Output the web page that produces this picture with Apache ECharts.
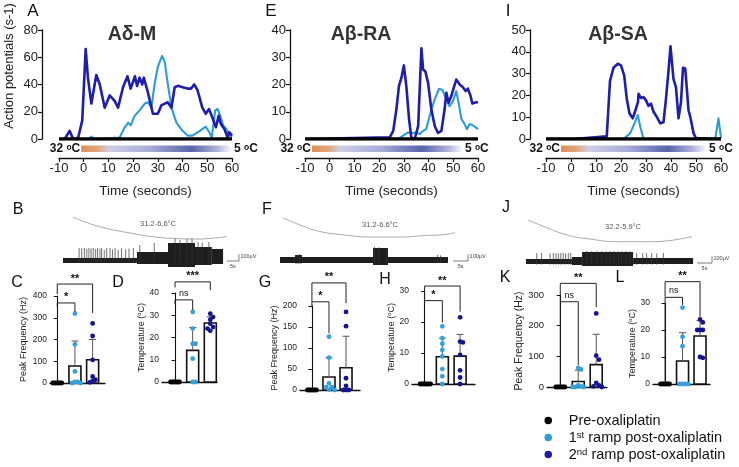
<!DOCTYPE html>
<html><head><meta charset="utf-8">
<script src="https://cdn.jsdelivr.net/npm/echarts@6/dist/echarts.min.js"></script>
<style>html,body{margin:0;padding:0;background:#fff}#c{width:739px;height:467px}</style>
</head><body><div id="c"></div><script>
// ---------------- DATA ----------------
const legendNames = ['Pre-oxaliplatin', '1st ramp post-oxaliplatin', '2nd ramp post-oxaliplatin'];
const panelTitles = ['A\u03b4-M', 'A\u03b2-RA', 'A\u03b2-SA'];
const rampTemps = [32, 5];
const timeName = 'Time (seconds)';

// Panel A (A-delta M), [time s, action potentials /s]
const preA = [[-10, 0], [60, 0]];
const firstA = [[-3,0],[2,0],[3,1.7],[4.5,0],[14.5,1],[16.6,8.6],[18,12],[19,10],[20.6,17],[22.6,21],[24.7,26],[26,27],[27.4,23],[28.7,40.6],[30,53],[31.7,61],[32.8,56.6],[33.8,43],[35.5,23],[37.5,12],[40,6],[42,2.5],[44,2.5],[47,6],[49.4,9],[50.8,5],[51.8,1],[53.2,21],[54.2,22],[55.4,16],[56.4,10],[57.7,7.4],[59,2.5],[60,1.7]];
const secondA = [[-7.7,0],[-5.7,6],[-4.3,0],[-2.3,0.5],[-0.6,13.5],[0.8,66],[1.7,45],[3.1,26],[5.1,47],[6.5,40],[8.5,23],[10.5,32],[12.5,28],[13.9,23],[15.9,38],[17.7,46],[19,37],[20.7,46],[21.6,39],[22.6,45],[23.7,40],[24.3,45],[26,34],[28,18.5],[30,18.5],[31.4,24.6],[32.8,26],[34,27],[35.5,23],[36.8,38],[38.2,39],[40,38],[42,37],[43.4,37],[44.7,40],[46,36],[48,23],[49.4,18.5],[50.7,22],[52,16],[53.5,8.6],[54.6,17],[55.5,11],[56.9,7.4],[58.2,1],[58.9,5],[60,2.5]];
const rampA = [-1, 60];

// Panel E (A-beta RA)
const preE = [[-10, 0], [60, 0]];
const firstE = [[-10,0],[27.7,0],[29.7,1.2],[31.7,2.4],[33.7,2.2],[35,2.4],[36.4,1.8],[37.8,3],[39,3.6],[41.2,11],[42.5,14.5],[44.2,18.4],[45.6,18],[47.2,14.5],[48.5,12],[49.9,14],[51.2,17.6],[51.9,14.5],[53.3,7.3],[54.6,5.5],[55.5,3.6],[56.6,5.5],[58,5],[60,3.6]];
const secondE = [[-10,0],[24.3,0.6],[25.7,3],[27,11],[28,19.4],[29,22.4],[30,27],[31,19.4],[32.1,7.3],[33,0.6],[34.4,0],[35.8,4.8],[37.1,33.3],[37.8,25.5],[38.7,24.8],[39.8,20.6],[41.1,11],[42.5,4.8],[43.8,2.2],[45.2,3],[46.5,11],[47.2,17],[48.1,13.3],[49.2,15.8],[51.2,21.8],[52.6,20],[53.9,19],[55,17.6],[55.9,18.5],[57,15.8],[57.7,13],[58.6,13.3],[60,13.6]];
const rampE = [-7.2, 53.9];

// Panel I (A-beta SA)
const preI = [[-10, 0], [60, 0]];
const firstI = [[-10,0],[21,0],[23.7,2.7],[25.7,8],[26.7,11],[27.7,5.7],[29,0],[57.7,0],[59,9.5],[60,0.4]];
const secondI = [[-10,0],[-1,0],[-0.4,0.7],[1,0],[14.3,1.2],[15.6,26.7],[17,32.7],[18.7,34.5],[20,33.8],[21.3,29],[22.3,18.5],[23.4,11.7],[24.7,9.5],[26,14],[26.8,17],[27,20.7],[28,18.8],[29,19.2],[30,17.7],[31,15.2],[32,16.2],[33,12.5],[34.3,10.2],[35.7,7.2],[37,7.7],[38,18.5],[39,31.2],[39.8,42.5],[41,27.5],[42,23.7],[43,9.5],[44,17],[44.8,32.7],[45.7,32.3],[47,13.2],[47.7,10.2],[49,2.7],[50,0.4],[60,0]];
const rampI = [-4, 54.4];

// Recordings: temperature curve [s, degC], envelope [t0, t1, low uV, high uV], spikes [t, uV], scale bar [t, uV, 5 s, 100 uV]
const bRange = '31.2-6.6\u00b0C';
const bTemp = [[4.2,31.6],[9.2,25.6],[17.5,18.4],[27.9,12.4],[38.3,7.6],[46.7,5.8],[55,5.2],[63.3,6.4],[68.3,8.2]];
const bSeg = [[0,30.8,-45,30],[30.8,43.75,-60,120],[43.75,55,-105,255],[55,62,-75,195],[62,66.7,-60,165]];
const bSpikes = [[6.7,180],[7.8,175],[8.9,180],[9.9,170],[10.8,180],[11.7,175],[12.6,180],[13.6,165],[14.4,180],[15.4,170],[16.1,180],[17.2,150],[18.2,175],[19.6,180],[20.6,160],[21.7,180],[23,150],[24.4,175],[26.1,160],[27.5,170],[29.3,180],[32,225],[38,255],[46.7,330],[48.75,300],[51.7,320],[53.75,330],[56.25,270],[58,260],[60.8,270]];
const bScale = [68.3, -15, 5, 100];

const fRange = '31.2-6.6\u00b0C';
const fTemp = [[1,30.4],[6.7,22],[13.3,14.2],[21.7,10],[30,7.6],[40,7.6],[48.3,9.4],[55,10.6],[58.3,13]];
const fSeg = [[0,56,-45,45],[5,7.3,-50,75],[31,36,-75,180]];
const fSpikes = [[6.5,90],[31.5,195],[33,190],[35.5,180],[52.5,75],[53.5,70]];
const fScale = [57.7, -15, 5, 100];

const jRange = '32.2-5.9\u00b0C';
const jTemp = [[0.7,34],[4.7,28],[13.7,16],[21.3,11.2],[30.3,8],[41.3,8],[48,9.4],[55.3,14]];
const jSeg = [[0,15.3,-30,45],[15.3,18.7,-45,75],[18.7,35.7,-60,150],[35.7,55.7,-30,60]];
const jSpikes = [[3.6,135],[5.2,135],[8,130],[9.1,135],[10,135],[10.8,130],[11.6,135],[12.4,135],[13.2,130],[14.1,135],[14.9,135],[20.2,165],[21.9,160],[23.6,165],[25.2,165],[26.7,160],[28,165],[29.3,165],[30.8,160],[31.9,165],[33.3,165],[34.7,160],[36.9,135],[38.9,135],[40.2,130],[41.9,135],[43.6,130],[45.8,135]];
const jScale = [57, -15, 5, 100];

// Bar charts: means, error-bar tops, individual points per group [pre, 1st, 2nd], brackets [a, b, y, legA, legB]
const cMean = [0, 78, 107], cErrTop = [0, 193, 200];
const cPre = [0,0,0,0,0,0,0], c1st = [319,178,53,5,5,0,0], c2nd = [274,216,106,30,15,8,3];
const cBrackets = [[0,2,455,409,322],[0,1,368,350,326]], cStars = ['**','*'];

const dMean = [0, 14.2, 26.5], dErrTop = [0, 24.5, 29.3];
const dPre = [0,0,0,0,0,0,0], d1st = [31.5,24,17.2,17.2,10.5,0,0], d2nd = [30.7,29.2,28,26.2,24.7,23,24];
const dBrackets = [[0,2,45,42.5,41.3],[0,1,36.9,35,32.4]], dStars = ['***','ns'];

const gMean = [0, 31, 53], gErrTop = [0, 77, 128];
const gPre = [0,0,0,0,0,0,0], g1st = [127,77,16,7,7,1,0], g2nd = [186,152,28,10,0,0,0];
const gBrackets = [[0,2,255,210,207],[0,1,210,198,135]], gStars = ['**','*'];

const hMean = [0, 8.8, 9], hErrTop = [0, 14.8, 16];
const hPre = [0,0,0,0,0,0,0,0], h1st = [18.6,14.8,13,11,8.9,4.8,2.5,0], h2nd = [21.5,13.7,13.4,9.4,4.4,2.1,0];
const hBrackets = [[0,2,31.6,27,23.3],[0,1,26.9,25.5,19.8]], hStars = ['**','*'];

const kMean = [0, 18, 73], kErrTop = [0, 55, 172];
const kPre = [0,0,0,0,0,0,0], k1st = [62,57,5,2,0,0,0], k2nd = [240,102,89,13,5,2,0];
const kBrackets = [[0,2,338,278,261],[0,1,278,5,72]], kStars = ['**','ns'];

const lMean = [0, 8.5, 17.8], lErrTop = [0, 19, 23.5];
const lPre = [0,0,0,0,0,0,0], l1st = [28.3,17.5,14,0,0,0,0], l2nd = [23.9,22.8,20,20,20,10,9.7];
const lBrackets = [[0,2,37.9,32.3,24.9],[0,1,32.1,1,29.3]], lStars = ['**','ns'];

const freqName = 'Peak Frequency (Hz)';
const tempName = 'Temperature ({s|o}C)';

// ---------------- STYLE / LAYOUT ----------------
const FONT = "Arial, 'Liberation Sans', Helvetica, sans-serif";
const C_PRE = '#000000', C_1ST = '#2f9bd4', C_2ND = '#1e1eaa';
const DOT_COLORS = ['#000000', '#36a0da', '#14148f'];
const DOT_STEP = [1.5, 2.8, 2.8];
const RAMP_STOPS = [
  {offset: 0, color: '#de8f57'}, {offset: 0.1, color: '#e2a477'}, {offset: 0.19, color: '#cdcfe6'},
  {offset: 0.45, color: '#a9aed8'}, {offset: 0.73, color: '#5a64ab'}, {offset: 0.9, color: '#aeb2d6'},
  {offset: 1, color: '#ffffff'}
];

const linePanels = [
  {left: 59, width: 173, yMax: 80, yInt: 20, yOff: 17, pre: preA, first: firstA, second: secondA, ramp: rampA},
  {left: 305, width: 173, yMax: 40, yInt: 10, yOff: 15, pre: preE, first: firstE, second: secondE, ramp: rampE},
  {left: 546, width: 175, yMax: 50, yInt: 10, yOff: 16, pre: preI, first: firstI, second: secondI, ramp: rampI}
];
const tracePanels = [
  {left: 63, width: 180, tMax: 75, tTop: 215, tH: 25, tMin: 4, tMaxT: 34, trTop: 240, temp: bTemp, seg: bSeg, spikes: bSpikes, scale: bScale, label: bRange, lx: 158, ly: 224},
  {left: 280, width: 195, tMax: 65, tTop: 215, tH: 25, tMin: 4, tMaxT: 34, trTop: 240, temp: fTemp, seg: fSeg, spikes: fSpikes, scale: fScale, label: fRange, lx: 380, ly: 225},
  {left: 526, width: 195, tMax: 65, tTop: 215, tH: 30, tMin: 4, tMaxT: 40, trTop: 242, temp: jTemp, seg: jSeg, spikes: jSpikes, scale: jScale, label: jRange, lx: 623, ly: 227}
];
const barPanels = [
  {left: 50, top: 296, width: 55, height: 87, yMax: 400, yInt: 100, xMin: -0.41, xMax: 2.7, mean: cMean, err: cErrTop, dots: [cPre, c1st, c2nd], br: cBrackets, st: cStars, name: freqName, gap: 22, fs: 8.5, nfs: 9},
  {left: 162, top: 293, width: 55, height: 89, yMax: 40, yInt: 10, xMin: -0.74, xMax: 2.38, mean: dMean, err: dErrTop, dots: [dPre, d1st, d2nd], br: dBrackets, st: dStars, name: tempName, gap: 14, fs: 8.5, nfs: 9},
  {left: 300, top: 306, width: 60, height: 84, yMax: 200, yInt: 50, xMin: -0.7, xMax: 2.82, mean: gMean, err: gErrTop, dots: [gPre, g1st, g2nd], br: gBrackets, st: gStars, name: freqName, gap: 18, fs: 8.5, nfs: 9},
  {left: 412, top: 291, width: 63, height: 93, yMax: 30, yInt: 10, xMin: -0.71, xMax: 2.84, mean: hMean, err: hErrTop, dots: [hPre, h1st, h2nd], br: hBrackets, st: hStars, name: tempName, gap: 14, fs: 8.5, nfs: 9},
  {left: 547, top: 295, width: 60, height: 92, yMax: 300, yInt: 100, xMin: -0.74, xMax: 2.6, mean: kMean, err: kErrTop, dots: [kPre, k1st, k2nd], br: kBrackets, st: kStars, name: freqName, gap: 19, fs: 9.5, nfs: 10.5},
  {left: 653, top: 303, width: 57, height: 81, yMax: 30, yInt: 10, xMin: -0.69, xMax: 2.57, mean: lMean, err: lErrTop, dots: [lPre, l1st, l2nd], br: lBrackets, st: lStars, name: tempName, gap: 10, fs: 8.5, nfs: 9}
];

// ---------------- BUILD ----------------
const grids = [], xAxes = [], yAxes = [], series = [];
function addGrid(g, x, y) {
  g.outerBoundsMode = 'none'; g.containLabel = false;
  grids.push(g); const i = grids.length - 1;
  x.gridIndex = i; y.gridIndex = i; xAxes.push(x); yAxes.push(y); return i;
}
const axLine = {show: true, onZero: false, lineStyle: {color: '#111', width: 1.3}};
const axTick = {show: true, length: 4, lineStyle: {color: '#111', width: 1.2}};

linePanels.forEach(p => {
  const i = addGrid({left: p.left, top: 30, width: p.width, height: 109},
    {type: 'value', min: -10, max: 60, interval: 10, offset: 19, axisLine: axLine, axisTick: axTick,
     axisLabel: {fontSize: 13, color: '#222', margin: 4, fontFamily: FONT}, splitLine: {show: false},
     name: timeName, nameLocation: 'middle', nameGap: 26, nameTextStyle: {fontSize: 13.5, color: '#222', fontFamily: FONT}},
    {type: 'value', min: 0, max: p.yMax, interval: p.yInt, offset: p.yOff, axisLine: axLine, axisTick: axTick,
     axisLabel: {fontSize: 13, color: '#222', margin: 4, fontFamily: FONT}, splitLine: {show: false}});
  const mk = (data, color, name, w) => ({type: 'line', name, xAxisIndex: i, yAxisIndex: i, data, color,
    showSymbol: false, symbol: 'none', lineStyle: {color, width: w, join: 'round'}, itemStyle: {color}, silent: true});
  series.push(mk(p.first, C_1ST, legendNames[1], 2.1));
  series.push(mk(p.second, C_2ND, legendNames[2], 2.6));
  series.push(mk(p.pre, C_PRE, legendNames[0], 3.3));
  series.push({type: 'custom', xAxisIndex: i, yAxisIndex: i, data: [p.ramp], silent: true,
    renderItem: (params, api) => {
      const p0 = api.coord([api.value(0), 0]), p1 = api.coord([api.value(1), 0]);
      const y = p0[1] + 6.5, h = 6.5;
      const rich = {s: {fontSize: 8.5, fontWeight: 'bold', fontFamily: FONT, verticalAlign: 'top', fill: '#111'}};
      return {type: 'group', children: [
        {type: 'rect', shape: {x: p0[0], y: y, width: p1[0] - p0[0], height: h},
         style: {fill: new echarts.graphic.LinearGradient(0, 0, 1, 0, RAMP_STOPS)}},
        {type: 'text', x: p0[0] - 1, y: y + h / 2, style: {text: rampTemps[0] + ' {s|o}C', align: 'right', verticalAlign: 'middle',
          fontSize: 12, fontWeight: 'bold', fontFamily: FONT, fill: '#111', rich}},
        {type: 'text', x: p1[0] + 2, y: y + h / 2, style: {text: rampTemps[1] + ' {s|o}C', align: 'left', verticalAlign: 'middle',
          fontSize: 12, fontWeight: 'bold', fontFamily: FONT, fill: '#111', rich}}
      ]};
    }});
});

tracePanels.forEach(p => {
  const ti = addGrid({left: p.left, top: p.tTop, width: p.width, height: p.tH},
    {type: 'value', min: 0, max: p.tMax, show: false}, {type: 'value', min: p.tMin, max: p.tMaxT, show: false});
  series.push({type: 'line', xAxisIndex: ti, yAxisIndex: ti, data: p.temp, smooth: 0.5, showSymbol: false, symbol: 'none',
    lineStyle: {color: '#a0a0a0', width: 0.9}, silent: true});
  const ri = addGrid({left: p.left, top: p.trTop, width: p.width, height: 40},
    {type: 'value', min: 0, max: p.tMax, show: false}, {type: 'value', min: -300, max: 300, show: false});
  series.push({type: 'custom', xAxisIndex: ri, yAxisIndex: ri, data: p.seg, silent: true,
    renderItem: (params, api) => {
      const a = api.coord([api.value(0), api.value(3)]), b = api.coord([api.value(1), api.value(2)]);
      return {type: 'rect', shape: {x: a[0], y: a[1], width: b[0] - a[0], height: b[1] - a[1]}, style: {fill: '#1e1e1e'}};
    }});
  series.push({type: 'custom', xAxisIndex: ri, yAxisIndex: ri, data: p.spikes, silent: true,
    renderItem: (params, api) => {
      const a = api.coord([api.value(0), -40]), b = api.coord([api.value(0), api.value(1)]);
      return {type: 'line', shape: {x1: a[0], y1: a[1], x2: b[0], y2: b[1]}, style: {stroke: '#333', lineWidth: 0.7}};
    }});
  series.push({type: 'custom', xAxisIndex: ri, yAxisIndex: ri, data: [p.scale], silent: true,
    renderItem: (params, api) => {
      const t = api.value(0), v = api.value(1), dt = api.value(2), dv = api.value(3);
      const a = api.coord([t, v]), b = api.coord([t + dt, v]), c = api.coord([t + dt, v + dv]);
      return {type: 'group', children: [
        {type: 'polyline', shape: {points: [a, b, c]}, style: {stroke: '#444', lineWidth: 0.7, fill: null}},
        {type: 'text', x: c[0] + 1.5, y: (b[1] + c[1]) / 2 - 1, style: {text: dv + '\u00b5V', fontSize: 5.5, fontFamily: FONT, fill: '#444', align: 'left', verticalAlign: 'middle'}},
        {type: 'text', x: (a[0] + b[0]) / 2, y: a[1] + 2, style: {text: dt + 's', fontSize: 5.5, fontFamily: FONT, fill: '#444', align: 'center', verticalAlign: 'top'}}
      ]};
    }});
});

barPanels.forEach(p => {
  const i = addGrid({left: p.left, top: p.top, width: p.width, height: p.height},
    {type: 'value', min: p.xMin, max: p.xMax, axisLine: {show: true, onZero: false, lineStyle: {color: '#111', width: 1.3}},
     axisTick: {show: false}, axisLabel: {show: false}, splitLine: {show: false}},
    {type: 'value', min: 0, max: p.yMax, interval: p.yInt, axisLine: {show: true, lineStyle: {color: '#111', width: 1.1}},
     axisTick: {show: true, length: 3.5, lineStyle: {color: '#111', width: 1}},
     axisLabel: {fontSize: p.fs, color: '#222', margin: 3, fontFamily: FONT}, splitLine: {show: false},
     name: p.name, nameLocation: 'middle', nameGap: p.gap, nameRotate: 90,
     nameTextStyle: {fontSize: p.nfs, color: '#222', fontFamily: FONT, rich: {s: {fontSize: p.nfs * 0.65, verticalAlign: 'top', fontFamily: FONT, color: '#222'}}}});
  series.push({type: 'custom', xAxisIndex: i, yAxisIndex: i, silent: true, data: p.mean.map((m, g) => [g, m]),
    renderItem: (params, api) => {
      const g = api.value(0), b = api.coord([g, 0]), t = api.coord([g, api.value(1)]);
      return {type: 'rect', shape: {x: b[0] - 6, y: t[1], width: 12, height: b[1] - t[1]}, style: {fill: '#fff', stroke: '#111', lineWidth: 1.6}};
    }});
  series.push({type: 'custom', xAxisIndex: i, yAxisIndex: i, silent: true, data: p.mean.map((m, g) => [g, m, p.err[g]]),
    renderItem: (params, api) => {
      const g = api.value(0);
      if (api.value(2) <= api.value(1)) return null;
      const a = api.coord([g, api.value(1)]), b = api.coord([g, api.value(2)]);
      return {type: 'group', children: [
        {type: 'line', shape: {x1: a[0], y1: a[1], x2: b[0], y2: b[1]}, style: {stroke: '#555', lineWidth: 1}},
        {type: 'line', shape: {x1: b[0] - 3.5, y1: b[1], x2: b[0] + 3.5, y2: b[1]}, style: {stroke: '#555', lineWidth: 1}}
      ]};
    }});
  const dotData = [];
  p.dots.forEach((vals, g) => vals.forEach((v, k) => dotData.push([g, v, k])));
  series.push({type: 'custom', xAxisIndex: i, yAxisIndex: i, silent: true, data: dotData,
    renderItem: (params, api) => {
      const g = api.value(0), k = api.value(2), vals = p.dots[g], step = DOT_STEP[g];
      const ys = vals.map(v => api.coord([g, v])[1]);
      const xs = [];
      for (let n = 0; n <= k; n++) {
        let c = 0;
        for (let m = 0; m < 40; m++) {
          c = m === 0 ? 0 : ((m % 2) ? 1 : -1) * Math.ceil(m / 2) * step;
          let ok = true;
          for (let j = 0; j < n; j++) {
            if (Math.abs(ys[j] - ys[n]) < 4 && Math.abs(xs[j] - c) < step * 0.99) { ok = false; break; }
          }
          if (ok) break;
        }
        xs.push(c);
      }
      const pt = api.coord([g, vals[k]]);
      return {type: 'circle', shape: {cx: pt[0] + xs[k], cy: pt[1], r: 2.4}, style: {fill: DOT_COLORS[g]}};
    }});
  series.push({type: 'custom', xAxisIndex: i, yAxisIndex: i, silent: true, clip: false, data: p.br,
    renderItem: (params, api) => {
      const a = api.value(0), b = api.value(1), y = api.value(2);
      const p1 = api.coord([a, api.value(3)]), p2 = api.coord([a, y]), p3 = api.coord([b, y]), p4 = api.coord([b, api.value(4)]);
      const lab = p.st[params.dataIndex];
      const isNs = lab === 'ns';
      return {type: 'group', children: [
        {type: 'polyline', shape: {points: [p1, p2, p3, p4]}, style: {stroke: '#222', lineWidth: 1, fill: null}},
        {type: 'text', x: (p2[0] + p3[0]) / 2, y: p2[1] - (isNs ? 2 : 0), style: {text: lab, align: 'center', verticalAlign: 'bottom',
          fontSize: isNs ? 9 : 11, fontWeight: isNs ? 'normal' : 'bold', fontFamily: FONT, fill: '#111'}}
      ]};
    }});
});

// ---------------- TEXT ----------------
const graphic = [];
function txt(x, y, text, size, extra) {
  graphic.push(Object.assign({type: 'text', x, y, silent: true,
    style: Object.assign({text, fontSize: size, fontFamily: FONT, fill: '#111', align: 'center', verticalAlign: 'middle'}, (extra && extra.style) || {})},
    extra && extra.el || {}));
}
[['A',33,11],['E',271,11],['I',508,11]].forEach(l => txt(l[1], l[2], l[0], 17));
[['B',18,210],['F',267,210],['J',506,208],['C',17,283],['D',118,283],['G',265,283],['H',385,280],['K',505,278],['L',620,278]].forEach(l => txt(l[1], l[2], l[0], 16));
txt(132, 35, panelTitles[0], 19.5, {style: {fontWeight: 'bold', fill: '#333'}});
txt(361, 35, panelTitles[1], 19.5, {style: {fontWeight: 'bold', fill: '#333'}});
txt(618, 35, panelTitles[2], 19.5, {style: {fontWeight: 'bold', fill: '#333'}});
txt(9, 66, 'Action potentials (s-1)', 13, {el: {rotation: Math.PI / 2}, style: {fill: '#222'}});
tracePanels.forEach(p => txt(p.lx, p.ly, p.label, 7.5, {style: {fill: '#555'}}));

const option = {
  animation: false,
  backgroundColor: '#fff',
  textStyle: {fontFamily: FONT},
  grid: grids, xAxis: xAxes, yAxis: yAxes, series,
  graphic,
  legend: {
    data: legendNames, orient: 'vertical', left: 539.5, top: 408, icon: 'circle',
    itemWidth: 31, itemHeight: 7.5, itemGap: 2, selectedMode: false,
    textStyle: {fontSize: 14.5, color: '#111', fontFamily: FONT,
      rich: {s: {fontSize: 9.5, verticalAlign: 'top', fontFamily: FONT, color: '#111'}}},
    formatter: n => n.replace(/^(\d)(st|nd)/, '$1{s|$2}')
  }
};
const chart = echarts.init(document.getElementById('c'), null, {renderer: 'canvas', width: 739, height: 467});
chart.setOption(option);
</script></body></html>
